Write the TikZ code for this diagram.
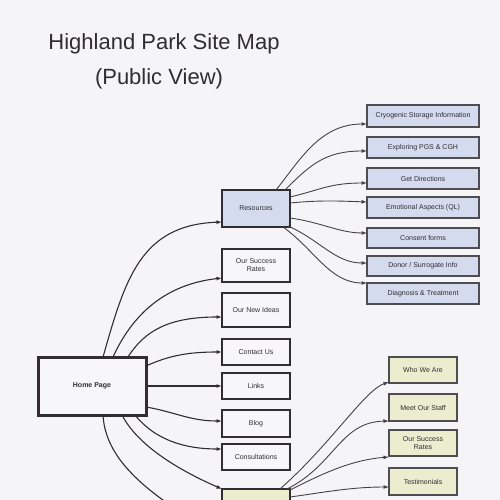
\documentclass[tikz,border=0pt]{standalone}
\usepackage{fontspec}
\setmainfont{Liberation Sans}
\usetikzlibrary{arrows.meta,calc,shadows}
\definecolor{paper}{RGB}{245,245,247}
\definecolor{ink}{RGB}{50,45,48}
\definecolor{txt}{RGB}{48,45,48}
\definecolor{bluefill}{RGB}{212,219,238}
\definecolor{yelfill}{RGB}{236,236,207}
\definecolor{whitefill}{RGB}{247,247,249}
\definecolor{thinedge}{RGB}{80,77,82}
\tikzset{
  boxbase/.style={rectangle, inner sep=1pt, outer sep=0pt, align=center,
    font=\fontsize{7}{8}\selectfont, text=txt,
    drop shadow={shadow xshift=1pt, shadow yshift=-1.3pt, opacity=0.25, fill=black!70}},
  leftbox/.style={boxbase, draw=ink, line width=2.1pt, fill=whitefill, minimum width=68pt},
  resbox/.style={leftbox, fill=bluefill},
  rbluebox/.style={boxbase, draw=thinedge, line width=1.2pt, fill=bluefill, minimum width=112pt},
  ryelbox/.style={boxbase, draw=thinedge, line width=1.2pt, fill=yelfill, minimum width=68pt},
  homebox/.style={boxbase, draw=ink, line width=3pt, fill=whitefill, minimum width=108pt, minimum height=58pt, font=\fontsize{7}{8}\selectfont\bfseries},
  conn/.style={draw=ink, line width=1.1pt, -{Latex[length=5.5pt,width=4pt]}},
  thinconn/.style={draw=ink!90, line width=0.9pt, -{Latex[length=5.5pt,width=4pt]}},
  titletext/.style={font=\fontsize{22}{24}\selectfont, text=txt, anchor=base}
}
\begin{document}
\begin{tikzpicture}[x=1pt,y=-1pt]
\useasboundingbox (0,0) rectangle (500,500);
\clip (0,0) rectangle (500,500);
\fill[paper] (0,0) rectangle (500,500);

% title
\node[titletext] (t1) at (164,50) {Highland Park Site Map};
\node[titletext] (t2) at (159,85) {(Public View)};

% home
\node[homebox] (home) at (92,386) {Home Page};

% left column
\node[resbox, minimum height=37pt] (res) at (256,208.5) {Resources};
\node[leftbox, minimum height=33pt] (osr) at (256,265.5) {Our Success\\Rates};
\node[leftbox, minimum height=34pt] (ideas) at (256,310) {Our New Ideas};
\node[leftbox, minimum height=26pt] (contact) at (256,352) {Contact Us};
\node[leftbox, minimum height=26pt] (links) at (256,386) {Links};
\node[leftbox, minimum height=27pt] (blog) at (256,423.5) {Blog};
\node[leftbox, minimum height=26pt] (consult) at (256,457) {Consultations};
\node[leftbox, fill=yelfill, minimum height=36pt] (ybox) at (256,507) {};

% right blue column
\node[rbluebox, minimum height=22pt] (cryo) at (423,116) {Cryogenic Storage Information};
\node[rbluebox, minimum height=21pt] (pgs) at (423,147.5) {Exploring PGS \& CGH};
\node[rbluebox, minimum height=21pt] (dir) at (423,178.5) {Get Directions};
\node[rbluebox, minimum height=21pt] (emo) at (423,207.5) {Emotional Aspects (QL)};
\node[rbluebox, minimum height=20pt] (consent) at (423,238) {Consent forms};
\node[rbluebox, minimum height=20pt] (donor) at (423,266) {Donor / Surrogate Info};
\node[rbluebox, minimum height=21pt] (diag) at (423,293.5) {Diagnosis \& Treatment};

% right yellow column
\node[ryelbox, minimum height=26pt] (who) at (423,370) {Who We Are};
\node[ryelbox, minimum height=27pt] (staff) at (423,407.5) {Meet Our Staff};
\node[ryelbox, minimum height=26pt] (osr2) at (423,443) {Our Success\\Rates};
\node[ryelbox, minimum height=27pt] (testi) at (423,481.5) {Testimonials};

\coordinate (offpage) at (185,515);

% home connectors
\draw[conn] ($(home.north west)+(65,0)$) .. controls (125,280) and (140,225) .. ($(res.west)+(0,13.5)$);
\draw[conn] ($(home.north west)+(75,0)$) .. controls (130,320) and (160,285) .. ($(osr.west)+(0,12.5)$);
\draw[conn] ($(home.north west)+(90,0)$) .. controls (145,330) and (170,317) .. ($(ideas.west)+(0,7)$);
\draw[conn] ($(home.east)+(0,-20)$) .. controls (170,355) and (190,352) .. (contact.west);
\draw[conn] (home.east) -- (links.west);
\draw[conn] ($(home.east)+(0,21)$) .. controls (175,412) and (190,421) .. ($(blog.west)+(0,-2.5)$);
\draw[conn] ($(home.south west)+(97,0)$) .. controls (155,440) and (185,449) .. ($(consult.west)+(0,-8)$);
\draw[conn] ($(home.south west)+(84,0)$) .. controls (140,450) and (190,475) .. (ybox.north west);
\draw[draw=ink, line width=1.1pt] ($(home.south west)+(65,0)$) .. controls (105,450) and (130,480) .. (offpage);

% resources connectors
\draw[thinconn] ($(res.north west)+(54,0)$) .. controls (300,160) and (320,124) .. ($(cryo.west)+(0,8)$);
\draw[thinconn] ($(res.north west)+(63,0)$) .. controls (310,165) and (325,151) .. ($(pgs.west)+(0,3.5)$);
\draw[thinconn] ($(res.east)+(0,-11.5)$) .. controls (320,190) and (330,183) .. ($(dir.west)+(0,4.5)$);
\draw[thinconn] ($(res.east)+(0,-5.5)$) .. controls (320,200) and (340,201) .. ($(emo.west)+(0,-5.5)$);
\draw[thinconn] ($(res.east)+(0,9.5)$) .. controls (320,222) and (340,233) .. ($(consent.west)+(0,-5)$);
\draw[thinconn] ($(res.south east)+(-2,-1)$) .. controls (320,240) and (335,263) .. ($(donor.west)+(0,-3)$);
\draw[thinconn] ($(res.south east)+(-7,0)$) .. controls (315,250) and (330,283) .. ($(diag.west)+(0,-10.5)$);

% yellow connectors
\draw[thinconn] ($(ybox.north east)+(-10,0)$) .. controls (330,445) and (365,390) .. ($(who.west)+(0,12)$);
\draw[thinconn] ($(ybox.north east)+(-3,0)$) .. controls (335,465) and (340,422) .. ($(staff.west)+(0,13.5)$);
\draw[thinconn] ($(ybox.north east)+(0,1)$) .. controls (320,475) and (350,460) .. ($(osr2.west)+(0,14)$);
\draw[thinconn] ($(ybox.north east)+(0,8)$) .. controls (320,493) and (350,487) .. ($(testi.west)+(0,5.5)$);
\end{tikzpicture}
\end{document}
